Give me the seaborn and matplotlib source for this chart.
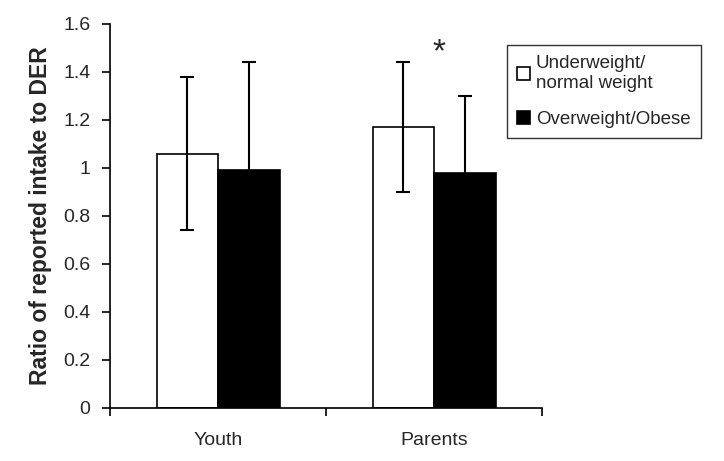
import matplotlib
matplotlib.use('Agg')
import matplotlib.pyplot as plt
import seaborn as sns
import pandas as pd

groups = ['Youth', 'Parents']
weight_cats = ['Underweight/\nnormal weight', 'Overweight/Obese']
means_normal = [1.06, 1.17]
sd_normal = [0.32, 0.27]
means_over = [0.99, 0.98]
sd_over = [0.45, 0.32]

sns.set_style('white')
plt.rcParams['font.family'] = ['Liberation Sans', 'DejaVu Sans']

df = pd.DataFrame({
    'group': groups * 2,
    'weight': [weight_cats[0]] * 2 + [weight_cats[1]] * 2,
    'ratio': means_normal + means_over,
    'sd': sd_normal + sd_over,
})

fig = plt.figure(figsize=(7.24, 4.61), dpi=100)
ax = fig.add_axes([0.152, 0.115, 0.597, 0.833])
sns.barplot(data=df, x='group', y='ratio', hue='weight', order=groups,
            hue_order=weight_cats, palette=['white', 'black'],
            edgecolor='black', linewidth=1.2, width=0.57, errorbar=None,
            ax=ax, legend=True)

# error bars from bar patches
for patches, hue in zip(ax.containers, weight_cats):
    sub = df[df['weight'] == hue].set_index('group').loc[groups]
    xs = [p.get_x() + p.get_width() / 2 for p in patches]
    ax.errorbar(xs, sub['ratio'], yerr=sub['sd'], fmt='none', ecolor='black',
                elinewidth=1.5, capsize=5, capthick=1.5)

ax.text(1.02, 1.48, '*', ha='center', va='center', fontsize=24)

ax.set_ylim(0, 1.6)
ax.set_xlim(-0.5, 1.5)
ax.set_yticks([0, 0.2, 0.4, 0.6, 0.8, 1.0, 1.2, 1.4, 1.6])
ax.set_yticklabels(['0', '0.2', '0.4', '0.6', '0.8', '1', '1.2', '1.4', '1.6'],
                   fontsize=14)
ax.set_xticks([-0.5, 0.5, 1.5])
ax.set_xticklabels(['', '', ''])
ax.set_xticks([0, 1], minor=True)
ax.set_xticklabels(groups, minor=True, fontsize=14)
ax.tick_params(axis='x', which='minor', length=0, pad=17)
ax.tick_params(axis='both', which='major', direction='out', length=6,
               width=1.2, color='black', left=True, bottom=True)
ax.tick_params(axis='y', pad=8)
ax.set_xlabel('')
ax.set_ylabel('Ratio of reported intake to DER', fontsize=16.5,
              fontweight='bold', labelpad=8)
for s in ['top', 'right']:
    ax.spines[s].set_visible(False)
for s in ['left', 'bottom']:
    ax.spines[s].set_color('black')
    ax.spines[s].set_linewidth(1.2)

leg = ax.legend(loc='upper left', bbox_to_anchor=(0.700, 0.902),
                bbox_transform=fig.transFigure, fontsize=13.5, frameon=True,
                fancybox=False, edgecolor='black', handlelength=0.7,
                handleheight=0.7, handletextpad=0.3, borderpad=0.55,
                labelspacing=1.0, borderaxespad=0)
leg.get_frame().set_linewidth(1.0)

plt.savefig('out.png', dpi=100)
